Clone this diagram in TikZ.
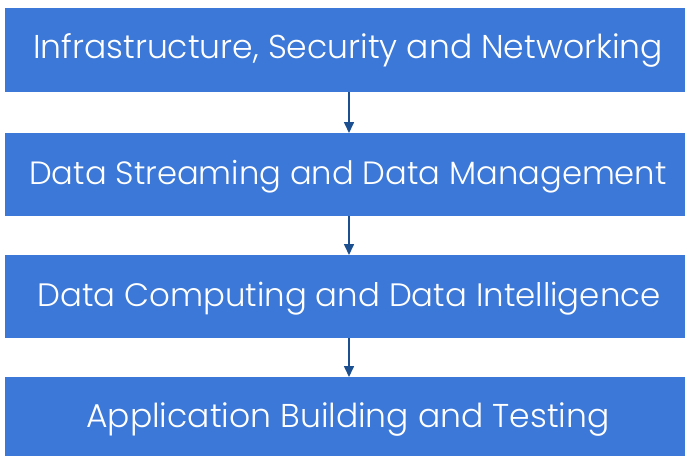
\documentclass[tikz,border=0pt]{standalone}
\usepackage{fontspec}
\setmainfont{Poppins}[UprightFont=* Light]
\usetikzlibrary{arrows.meta}
\definecolor{boxblue}{HTML}{3C78D8}
\definecolor{arrowblue}{HTML}{1B4F8F}
\tikzset{
  layer/.style={fill=boxblue, draw=none, inner sep=0pt},
  layertext/.style={text=white, font=\fontsize{33}{38}\selectfont, inner sep=0pt, anchor=base},
  flow/.style={draw=arrowblue, line width=1.6pt, -{Triangle[length=11pt,width=10pt]}}
}
\begin{document}
\begin{tikzpicture}[x=1pt,y=-1pt]
\useasboundingbox (0,0) rectangle (685,456);
\path[layer] (5,8) rectangle (685,92);
\path[layer] (5,133) rectangle (685,216);
\path[layer] (5,255) rectangle (685,338);
\path[layer] (5,377) rectangle (685,456);
\node[layertext] (t1) at (348,58) {Infrastructure, Security and Networking};
\node[layertext, font=\fontsize{32.2}{38}\selectfont] (t2) at (348,184) {Data Streaming and Data Management};
\node[layertext, font=\fontsize{32.4}{38}\selectfont] (t3) at (349,306) {Data Computing and Data Intelligence};
\node[layertext] (t4) at (348,427) {Application Building and Testing};
\coordinate (b1) at (349,92);
\coordinate (a2) at (349,133);
\coordinate (b2) at (349,216);
\coordinate (a3) at (349,255);
\coordinate (b3) at (349,338);
\coordinate (a4) at (349,377);
\draw[flow] (b1) -- (a2);
\draw[flow] (b2) -- (a3);
\draw[flow] (b3) -- (a4);
\end{tikzpicture}
\end{document}
